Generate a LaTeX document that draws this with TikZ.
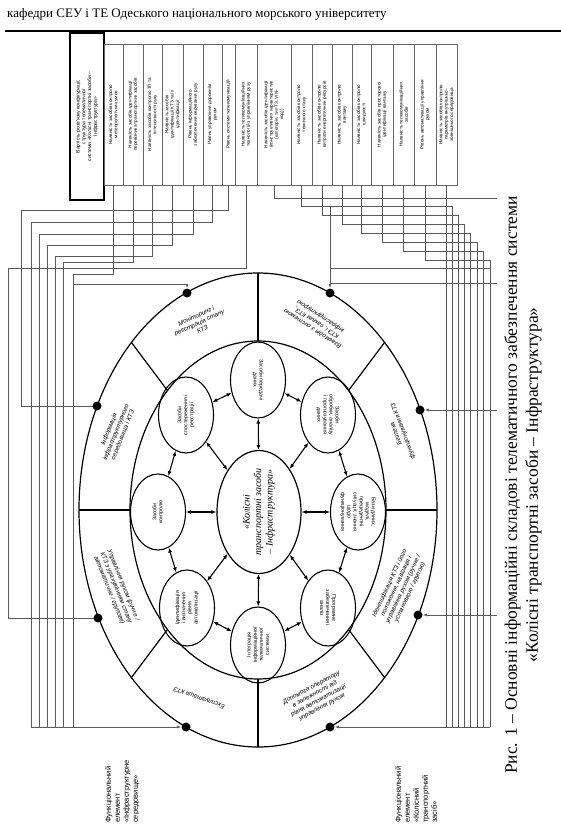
\documentclass[tikz,border=0pt]{standalone}
\usepackage{fontspec}
\setmainfont{Liberation Serif}
\setsansfont{Liberation Sans}
\usetikzlibrary{shapes.geometric,arrows.meta,positioning}

\tikzset{
  parbox/.style={draw=black!60, line width=0.5pt, rotate=90, minimum width=141pt,
    inner sep=0.5pt, align=center, font=\sffamily\fontsize{4.6}{5.3}\selectfont},
  costbox/.style={draw, line width=1.5pt, rotate=90, minimum width=167pt,
    minimum height=34pt, inner sep=1pt, align=center,
    font=\sffamily\fontsize{5}{5.8}\selectfont},
  ring/.style={line width=1.2pt},
  ringtext/.style={align=center, inner sep=0pt, font=\sffamily\itshape\fontsize{6.3}{7.4}\selectfont},
  smallell/.style={ellipse, draw, line width=1.1pt, minimum width=76pt, minimum height=55pt,
    inner sep=0pt, align=center, font=\sffamily\fontsize{5.3}{6.1}\selectfont},
  mainell/.style={ellipse, draw, line width=1.2pt, rotate=90, minimum width=112pt,
    minimum height=84pt, inner sep=0pt, align=center,
    font=\itshape\fontsize{10}{11.5}\selectfont},
  link/.style={line width=1.1pt, {Latex[length=5pt,width=4pt]}-{Latex[length=5pt,width=4pt]}},
  dot/.style={circle, fill, inner sep=0pt, minimum size=9pt},
  wire/.style={draw=black!65, line width=0.55pt},
  towire/.style={wire, -{Latex[length=4pt,width=3pt]}},
  sidetext/.style={rotate=90, anchor=north west, align=left, inner sep=0pt,
    font=\sffamily\fontsize{7.5}{9}\selectfont},
}

\begin{document}
\begin{tikzpicture}[x=1pt,y=-1pt]
\useasboundingbox (0,0) rectangle (561,830);

% header
\node[anchor=base west, inner sep=0pt, font=\fontsize{13}{15}\selectfont] (head) at (7,17)
  {кафедри СЕУ і ТЕ Одеського національного морського університету};
\draw[line width=1.6pt] (5,31) -- (561,31);

% parameter boxes
\node[costbox] (b0) at (87,116.5) {Вартість розв'язку конфігурації,\\структури телематичної\\системи «Колісні транспортні засоби --\\Інфраструктура»};
\foreach \xa/\xb/\txt [count=\i] in {
  104/123/{Наявність засобів контролю\\метеорологічних умов},
  123/143/{Наявність засобів ідентифікації\\перевізника транспортних засобів},
  143/162/{Наявність засобів контролю ТП та\\інтенсивності руху},
  162/183/{Наявність засобів\\ідентифікації КТЗ та їх\\ідентифікації},
  183/203/{Рівень інформаційного\\забезпечення керування руху},
  203/222/{Рівень управління дорожнім\\рухом},
  222/235/{Рівень системи телекомунікацій},
  235/257/{Наявність телекомунікаційних\\технологій з управлінням руху},
  257/291/{Наявність засобів ідентифікації\\(конструктивних характеристик\\(категорія, тип ТЗ, VIN-\\код))},
  291/312/{Наявність засобів контролю\\технічного стану},
  312/332/{Наявність засобів контролю\\витрати енергетичних ресурсів},
  332/352/{Наявність засобів контролю\\вантажу},
  352/371/{Наявність засобів контролю\\швидкості},
  371/393/{Наявність засобів просторової\\ідентифікації вантажу},
  393/414/{Наявність телекомунікаційних\\засобів},
  414/436/{Рівень автоматизації управління\\рухом},
  436/457/{Наявність засобів контролю\\параметрів внутрішньо-\\зовнішнього середовища}}
  \node[parbox, minimum height={(\xb-\xa)*1pt}] (b\i) at ({(\xa+\xb)/2},114.5) {\txt};

% outer ring
\coordinate (o) at (258,510);
\draw[ring] (o) ellipse [x radius=179, y radius=237];
\draw[ring] (o) ellipse [x radius=128, y radius=169];
\foreach \ta in {0,45,...,315}
  \draw[ring] ({258+128*cos(\ta)},{510-169*sin(\ta)}) -- ({258+179*cos(\ta)},{510-237*sin(\ta)});

\foreach \ta/\rot/\txt [count=\i] in {
  112.5/25/{Моніторинг і\\реєстрація стану\\КТЗ},
  67.5/147/{Взаємодія з системою\\КТЗ і, самим КТЗ,\\інфраструктурою},
  22.5/110/{Безпека\\функціонування КТЗ},
  -22.5/65/{Ідентифікація КТЗ і його\\положення, навігація і\\управління рухом (ручне /\\установкою / групою)},
  -67.5/28/{Допомога оператору\\в залежності від\\рівня автоматизації\\управління рухом},
  -112.5/160/{Експлуатація КТЗ},
  -157.5/-68/{Управління рухом (ручне /\\КТЗ з урахуванням стану\\автоматичне / групове)},
  157.5/68/{Інформація\\інфраструктурного\\середовища і КТЗ}}
  \node[ringtext, rotate=\rot] (r\i) at ({258+153.5*cos(\ta)},{510-203*sin(\ta)}) {\txt};

% inner wheel
\node[mainell] (c) at (259,512) {«Колісні\\транспортні засоби\\-- Інфраструктура»};
\foreach \nm/\px/\py/\rot/\txt in {
  s1/258/380/-90/{Засоби передачі\\даних},
  s2/328/415/-90/{Засоби\\обробки, аналізу\\і прогнозування\\даних},
  s3/358/512/-90/{Бази даних,\\моделі,\\прецедентні\\ситуації, знання\\щодо\\функціонування},
  s4/328/608/-90/{Програмне\\забезпечення і\\аналіз},
  s5/258/645/90/{Інтеграція\\інформаційної\\телематичної\\системи},
  s6/187/608/90/{Ідентифікація\\і визначення\\рівня\\автоматизації},
  s7/158/512/90/{Засоби\\контролю},
  s8/186/415/90/{Засоби\\спостереження і\\реєстрації}}
  \node[smallell, rotate=\rot] (\nm) at (\px,\py) {\txt};
\foreach \i in {1,...,8}
  \draw[link] (c) -- (s\i);
\foreach \i [evaluate=\i as \j using {int(mod(\i,8)+1)}] in {1,...,8}
  \draw[link] (s\i) -- (s\j);

% wires on the left
\draw[wire] (b7.west) |- (21,210) coordinate (l2);
\draw[towire] (l2) |- (97,406);
\draw[wire] (b6.west) |- (31,222) -- (31,727);
\draw[wire] (b5.west) |- (39,234) -- (39,727);
\draw[wire] (b4.west) |- (47,245) -- (47,727);
\draw[wire] (b3.west) |- (55,256) -- (55,727);
\draw[wire] (b2.west) |- (63,262) -- (63,727);
\draw[wire] (b8.west) |- (8,268) coordinate (l1);
\draw[towire] (l1) |- (98,618);
\draw[wire] (b1.west) |- (73,274) -- (73,727);
\draw[towire] (73,284) -| (187,288);
\draw[towire] (31,727) -- (181,727);

% wires on the right
\coordinate (rend) at (497,198);
\draw[wire] (b9.west) |- (rend);
\draw[wire] (b17.west) -- (b17.west |- 0,727);
\foreach \k/\xx/\yy in {10/452/206, 11/458/215, 12/464/224, 13/470/233, 14/477/242, 15/483/251, 16/490/260}
  \draw[wire] (b\k.west) |- (\xx,\yy) -- (\xx,727);
\draw[towire] (330,206) -- (330,288);
\draw[wire] (330,268) -- (490,268);
\draw[wire] (330,283) -- (497,283);
\draw[towire] (497,410) -- (425,410);
\draw[towire] (497,615) -- (423,615);
\draw[towire] (490,727) -- (335,727);

% functional elements
\node[dot] (dTL) at (187,293) {};
\node[dot] (dTR) at (330,293) {};
\node[dot] (dLT) at (97,406) {};
\node[dot] (dRT) at (420,410) {};
\node[dot] (dLB) at (98,618) {};
\node[dot] (dRB) at (418,615) {};
\node[dot] (dBL) at (186,727) {};
\node[dot] (dBR) at (330,727) {};

\node[sidetext] (fInfra) at (105,823) {Функціональний\\елемент\\«Інфраструктурне\\середовище»};
\node[sidetext] (fKtz) at (395,823) {Функціональний\\елемент\\«Колісний\\транспортний\\засіб»};

% caption
\node[rotate=90, align=center, inner sep=0pt, font=\fontsize{17.5}{21}\selectfont] (capt) at (523,485)
  {Рис. 1 -- Основні інформаційні складові телематичного забезпечення системи\\«Колісні транспортні засоби -- Інфраструктура»};
\end{tikzpicture}
\end{document}
